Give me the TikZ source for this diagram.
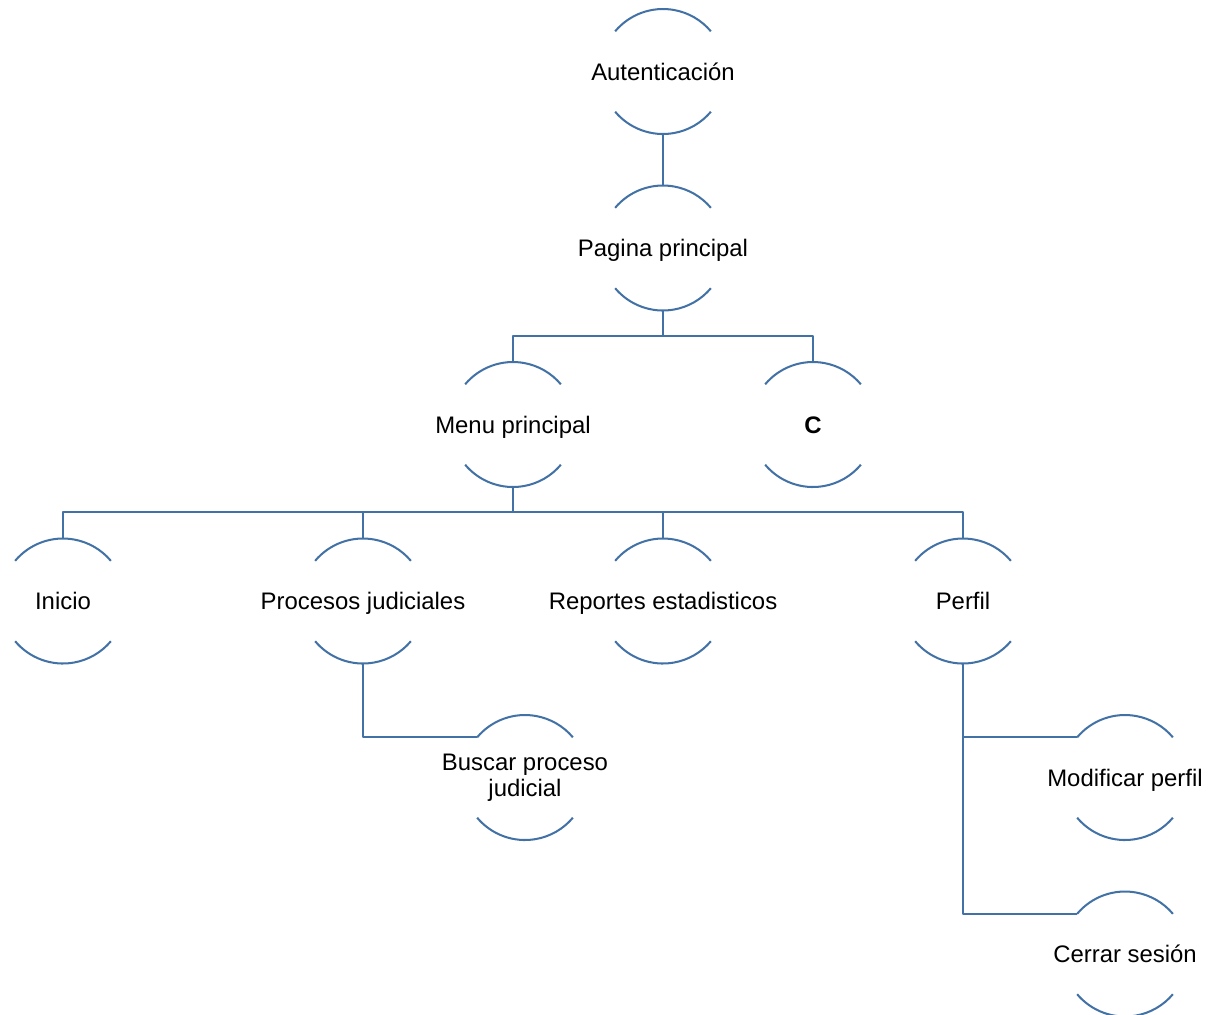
\documentclass[tikz,border=0pt]{standalone}
\usepackage{fontspec}
\setmainfont{Liberation Sans}
\definecolor{azul}{RGB}{66,113,166}
\begin{document}
\begin{tikzpicture}[line join=round,
    linea/.style={azul, line width=1.15pt},
    rotulo/.style={font=\fontsize{13.6}{14.6}\selectfont, align=center},
    caja/.style={circle, minimum size=2.5cm, inner sep=0pt, outer sep=0pt,
        label={[rotulo, text height=12pt, text depth=2.2pt]center:#1}},
    caja2/.style={circle, minimum size=2.5cm, inner sep=0pt, outer sep=0pt,
        label={[rotulo]center:#1}}]

    \useasboundingbox (0,0) rectangle (24.2,-20.28);

    % Nodos del mapa de navegacion
    \node[caja=Autenticación] (aut) at (13.26,-1.43) {};
    \node[caja=Pagina principal] (pag) at (13.26,-4.96) {};
    \node[caja=Menu principal] (menu) at (10.26,-8.49) {};
    \node[caja=\textbf{C}] (c) at (16.26,-8.49) {};
    \node[caja=Inicio] (ini) at (1.26,-12.02) {};
    \node[caja=Procesos judiciales] (proc) at (7.26,-12.02) {};
    \node[caja=Reportes estadisticos] (rep) at (13.26,-12.02) {};
    \node[caja=Perfil] (perf) at (19.26,-12.02) {};
    \node[caja2={Buscar proceso\\judicial}] (busq) at (10.5,-15.55) {};
    \node[caja=Modificar perfil] (mod) at (22.5,-15.55) {};
    \node[caja=Cerrar sesión] (cerr) at (22.5,-19.08) {};

    % Arcos superior e inferior de cada nodo
    \foreach \n in {aut,pag,menu,c,ini,proc,rep,perf,busq,mod,cerr}{
        \draw[linea] (\n.140) arc[start angle=140, end angle=40, radius=1.25cm];
        \draw[linea] (\n.220) arc[start angle=220, end angle=320, radius=1.25cm];
    }

    % Conexiones
    \draw[linea] (aut.south) -- (pag.north);
    \draw[linea] (pag.south) -- ++(0,-0.5) -| (menu.north);
    \draw[linea] (pag.south) -- ++(0,-0.5) -| (c.north);
    \draw[linea] (menu.south) -- ++(0,-0.5) -| (ini.north);
    \draw[linea] (menu.south) -- ++(0,-0.5) -| (proc.north);
    \draw[linea] (menu.south) -- ++(0,-0.5) -| (rep.north);
    \draw[linea] (menu.south) -- ++(0,-0.5) -| (perf.north);
    \draw[linea] (proc.south) |- (busq.140);
    \draw[linea] (perf.south) |- (mod.140);
    \draw[linea] (perf.south) |- (cerr.140);

\end{tikzpicture}
\end{document}
